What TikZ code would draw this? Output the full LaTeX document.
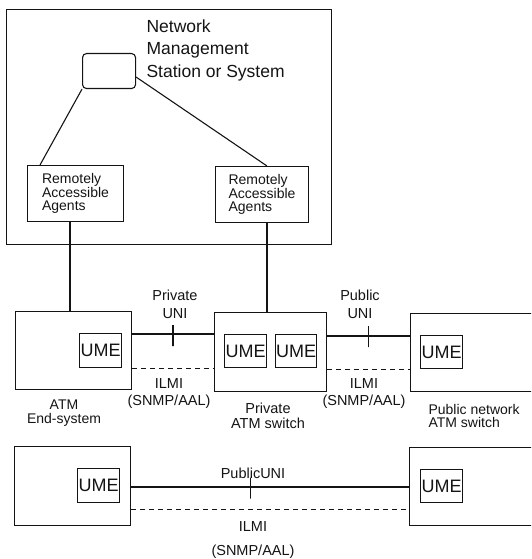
\documentclass[tikz,border=0pt]{standalone}
\usepackage{fontspec}
\setmainfont{Liberation Sans}
\usetikzlibrary{positioning, calc}
\definecolor{inkdark}{HTML}{141414}

\begin{document}
\begin{tikzpicture}[x=1pt, y=-1pt, line width=1.1pt, color=inkdark,
    box/.style={draw, rectangle, anchor=north west, inner sep=0pt},
    umebox/.style={box, minimum width=42pt, minimum height=34pt, font=\fontsize{18}{18}\selectfont},
    agentbox/.style={box, align=left, font=\fontsize{14}{13}\selectfont},
    lbl/.style={align=center, inner sep=0pt, font=\fontsize{14.5}{17}\selectfont},
    lbltight/.style={lbl, font=\fontsize{14}{13.5}\selectfont},
    unitick/.style={draw, rectangle, inner sep=0pt, minimum width=0pt, minimum height=21pt, line width=1.4pt},
    ilmi/.style={dashed, dash pattern=on 5pt off 4pt, line width=0.9pt}]

  % Page frame (right-hand boxes run off the edge)
  \useasboundingbox (0,0) rectangle (531,559);
  \clip (0,0) rectangle (531,559);

  % Management station (TOP)
  \node[box, minimum width=325pt, minimum height=235pt] (mgmt) at (6,9) {};
  \node[anchor=north west, inner sep=0pt, align=left, font=\fontsize{17.5}{22.5}\selectfont] (mgmttitle) at (146,19) {Network\\Management\\Station or System};
  \node[box, rounded corners=4pt, minimum width=53pt, minimum height=35pt] (nms) at (82,53) {};

  \node[agentbox, minimum width=96pt, minimum height=56pt] (raaL) at (27,165) {Remotely\\Accessible\\Agents};
  \node[agentbox, minimum width=93pt, minimum height=56pt] (raaR) at (215,166) {Remotely\\Accessible\\Agents};

  \coordinate (tapL) at (40,0);
  \coordinate (dropL) at (70,0);
  \coordinate (tapR) at (267,0);
  \draw (nms.south west) -- (raaL.north -| tapL);
  \draw ([yshift=-6pt]nms.east) -- (raaR.north -| tapR);

  % Private UNI / Public UNI row
  \node[box, minimum width=116pt, minimum height=78pt] (endsys) at (15,311) {};
  \node[umebox] (umeA) at (79,333) {UME};
  \node[box, minimum width=112pt, minimum height=79pt] (privsw) at (214,312) {};
  \node[umebox, minimum height=33pt] (umeB) at (224,334) {UME};
  \node[umebox, minimum width=41pt, minimum height=33pt] (umeC) at (275,334) {UME};
  \node[box, minimum width=140pt, minimum height=78pt] (pubsw) at (410,313) {};
  \node[umebox, minimum height=33pt] (umeD) at (420,335) {UME};

  \draw (raaL.south -| dropL) -- (endsys.north -| dropL);
  \draw (raaR.south -| tapR) -- (privsw.north -| tapR);

  \coordinate (uniA) at (0,334);
  \coordinate (ilmiA) at (0,368);
  \coordinate (uniB) at (0,336);
  \coordinate (ilmiB) at (0,369);
  \draw (endsys.east |- uniA) -- node[unitick, yshift=-1.5pt] (tickA) {} (privsw.west |- uniA);
  \draw[ilmi] (endsys.east |- ilmiA) -- (privsw.west |- ilmiA);
  \draw (privsw.east |- uniB) -- node[unitick, yshift=-0.5pt] (tickB) {} (pubsw.west |- uniB);
  \draw[ilmi] (privsw.east |- ilmiB) -- (pubsw.west |- ilmiB);

  \node[lbl, font=\fontsize{14.5}{18}\selectfont] (privuni) at (175,304) {Private\\UNI};
  \node[lbl, font=\fontsize{14.5}{18}\selectfont] (pubuni) at (360,304) {Public\\UNI};
  \node[lbl] (ilmiLblA) at (169,394) {ILMI\\(SNMP/AAL)};
  \node[lbl] (ilmiLblB) at (364,394) {ILMI\\(SNMP/AAL)};

  \node[lbltight] (endsysLbl) at (64,413) {ATM\\End-system};
  \node[lbl, font=\fontsize{14.5}{15}\selectfont] (privswLbl) at (268,416) {Private\\ATM switch};
  \node[lbltight, align=left, anchor=west] (pubswLbl) at (428,416) {Public network\\ATM switch};

  % Public UNI row (BOTTOM)
  \node[box, minimum width=116pt, minimum height=79pt] (endsysB) at (14,446) {};
  \node[umebox] (umeE) at (77,468) {UME};
  \node[box, minimum width=140pt, minimum height=78pt] (pubswB) at (409,447) {};
  \node[umebox, minimum height=33pt] (umeF) at (420,469) {UME};

  \coordinate (uniC) at (0,487);
  \coordinate (ilmiC) at (0,509);
  \draw (endsysB.east |- uniC) -- node[pos=0.43, unitick, yshift=-1pt] (tickC) {} (pubswB.west |- uniC);
  \draw[ilmi] (endsysB.east |- ilmiC) -- (pubswB.west |- ilmiC);

  \node[lbl] (pubuniC) at (253,473) {PublicUNI};
  \node[lbl, font=\fontsize{14.5}{24}\selectfont] (ilmiLblC) at (253,540) {ILMI\\(SNMP/AAL)};
\end{tikzpicture}
\end{document}
